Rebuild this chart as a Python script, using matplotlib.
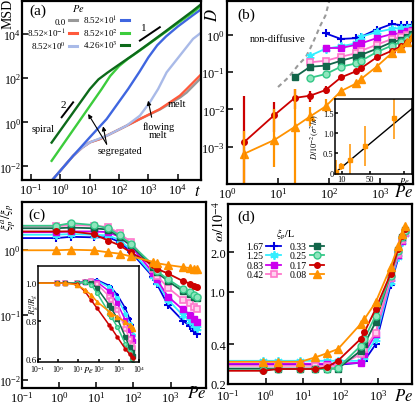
import numpy as np
import matplotlib
matplotlib.use('Agg')
import matplotlib.pyplot as plt
from matplotlib.ticker import FixedLocator, NullLocator, LogFormatterSciNotation, FixedFormatter

plt.rcParams['font.family'] = ['Liberation Serif', 'DejaVu Serif']
plt.rcParams['mathtext.fontset'] = 'stix'
plt.rcParams['axes.unicode_minus'] = False

# ---------------- data: panel (a) MSD(t) ----------------
pe_a_labels = ['0.0', '8.52×10$^{-1}$', '8.52×10$^{0}$',
               '8.52×10$^{1}$', '8.52×10$^{2}$', '4.26×10$^{3}$']
t_gray = [0.51, 2.75, 5.6, 10.2, 22.4, 107, 513, 2450, 11750, 19950, 64600]
msd_gray = [0.0022, 0.030, 0.071, 0.123, 0.174, 0.49, 1.41, 3.8, 13.2, 22.4, 110]
t_red = [0.51, 2.75, 5.6, 10.2, 22.4, 107, 513, 2450, 11750, 19950, 64600]
msd_red = [0.0022, 0.030, 0.071, 0.123, 0.174, 0.49, 1.41, 3.98, 16.2, 32.4, 158]
t_lblue = [0.51, 2.75, 5.6, 10.2, 38, 182, 513, 1120, 2140, 4170, 11750, 33100, 64600]
msd_lblue = [0.0022, 0.030, 0.071, 0.123, 0.245, 0.708, 2.0, 8.1, 32.4, 186, 1070, 6170, 12300]
t_blue = [0.51, 2.75, 10.2, 38, 204, 501, 1000, 2000, 3980, 10000, 31600, 64600]
msd_blue = [0.0022, 0.030, 0.21, 1.41, 32.4, 200, 891, 3160, 7940, 22400, 70800, 141000]
t_green = [0.51, 25.7, 50, 100, 200, 501, 1000, 3160, 10000, 31600, 64600]
msd_green = [0.0178, 32.4, 126, 355, 759, 1780, 3470, 10500, 31600, 95500, 200000]
t_dkgreen = [0.51, 10.2, 20, 40, 100, 316, 1000, 3160, 10000, 31600, 64600]
msd_dkgreen = [0.12, 32.4, 89, 178, 417, 1200, 3630, 11200, 35500, 112000, 240000]

# ---------------- data: panel (b) D(Pe) ----------------
xi_labels = ['1.67', '1.25', '0.83', '0.42', '0.33', '0.25', '0.17', '0.08']
nan = np.nan
pe_b = [2.13, 8.52, 21.3, 42.6, 85.2, 170.4, 340.8, 426, 852, 1704, 2556, 3408, 4260]
d_167 = [nan, nan, nan, nan, 1.12, 0.79, 0.83, 0.91, 1.41, 2.0, 1.86, 1.86, 1.82]
d_125 = [nan, nan, nan, 0.28, 0.43, 0.50, 0.60, 0.91, 1.20, 1.48, 1.55, 1.58, 1.62]
d_083 = [nan, nan, nan, nan, 0.45, 0.45, 0.55, 0.60, 0.83, 1.07, 1.12, 1.26, 1.38]
d_042 = [nan, nan, nan, 0.186, 0.204, 0.263, 0.324, 0.38, 0.55, 0.79, 0.87, 1.02, 1.20]
d_033 = [nan, nan, 0.074, 0.141, 0.151, 0.204, 0.263, 0.295, 0.427, 0.646, 0.741, 0.871, 1.07]
d_025 = [nan, nan, nan, 0.071, 0.089, 0.141, 0.174, 0.204, 0.347, 0.525, 0.646, 0.794, 0.977]
d_017 = [0.00129, 0.00708, 0.0204, 0.0234, 0.0331, 0.0724, 0.107, 0.129, 0.251, 0.38, 0.50, 0.66, 0.85]
d_008 = [0.00063, 0.00151, 0.00339, 0.00646, 0.0120, 0.0309, 0.0501, 0.0661, 0.141, 0.331, 0.457, 0.646, 0.91]
# error bar ends for the first five points
err_pe = [2.13, 8.52, 21.3, 42.6, 85.2]
d_017_lo = [1e-6, 0.0024, 0.0102, 0.0155, 0.0263]
d_017_hi = [0.0234, 0.0155, 0.0355, 0.0316, 0.0417]
d_008_lo = [1e-6, 0.00028, 1e-6, 0.0036, 0.0085]
d_008_hi = [0.00269, 0.0102, 0.0355, 0.0115, 0.0191]
# non-diffusive boundary (dashed guide)
nd_pe = [10, 16.2, 25.7, 34.7, 43.7, 53.7, 67.6, 85.1, 100]
nd_d = [0.040, 0.074, 0.166, 0.251, 0.468, 0.871, 1.82, 3.39, 7.94]
# inset of (b), D in units of 1e-2
ins_pe = [2.13, 8.52, 21.3, 42.6, 85.2]
ins_d = [0.03, 0.16, 0.33, 0.68, 1.38]
ins_lo = [-0.07, 0.06, -0.07, 0.18, 0.85]
ins_hi = [0.31, 0.24, 0.72, 1.18, 1.85]
fit_slope = 0.0145
fit_pe = [0, 111]

# ---------------- data: panels (c), (d) ----------------
pe_cd = [0.1, 0.852, 2.13, 8.52, 21.3, 42.6, 85.2, 340.8, 426, 852, 2130, 3408, 4260, 5112]
c_167 = [1.51, 1.51, 1.58, 1.55, 1.55, 1.32, 0.93, 0.38, 0.30, 0.14, 0.081, 0.066, 0.056, 0.050]
c_125 = [1.70, 1.70, 1.74, 1.70, 1.66, 1.41, 1.00, 0.40, 0.32, 0.17, 0.098, 0.079, 0.069, 0.063]
c_083 = [1.86, 1.86, 1.91, 1.91, 1.86, 1.58, 1.15, 0.44, 0.35, 0.19, 0.12, 0.10, 0.085, 0.076]
c_042 = [2.29, 2.29, 2.40, 2.34, 2.24, 1.78, 1.32, 0.50, 0.40, 0.26, 0.17, 0.15, 0.13, 0.12]
c_033 = [2.14, 2.14, 2.19, 2.14, 2.04, 1.58, 1.17, 0.54, 0.45, 0.33, 0.23, 0.21, 0.19, 0.18]
c_025 = [2.34, 2.34, 2.57, 2.40, 2.14, 1.66, 1.23, 0.58, 0.47, 0.35, 0.25, 0.22, 0.20, 0.19]
c_017 = [1.91, 1.91, 1.91, 1.74, 1.38, 1.17, 0.91, 0.58, 0.51, 0.43, 0.33, 0.30, 0.28, 0.27]
c_008 = [0.98, 0.98, 1.00, 0.98, 0.91, 0.87, 0.79, 0.65, 0.62, 0.58, 0.54, 0.52, 0.51, 0.50]
# inset of (c): Rg^a / Rg
rg_167 = [1.0, 1.0, 1.0, 1.0, 1.01, 1.018, 1.016, 0.987, 0.977, 0.938, 0.867, 0.813, 0.778, 0.751]
rg_125 = [1.0, 1.0, 1.0, 1.0, 1.008, 1.016, 1.012, 0.977, 0.964, 0.92, 0.84, 0.787, 0.751, 0.728]
rg_083 = [1.0, 1.0, 1.0, 1.0, 1.005, 1.012, 1.005, 0.956, 0.941, 0.893, 0.804, 0.751, 0.716, 0.693]
rg_042 = [1.0, 1.0, 1.0, 1.0, 1.005, 1.009, 0.995, 0.929, 0.911, 0.858, 0.76, 0.707, 0.676, 0.658]
rg_033 = [1.0, 1.0, 1.0, 1.0, 1.005, 1.0, 0.973, 0.884, 0.867, 0.813, 0.716, 0.662, 0.636, 0.615]
rg_025 = [1.0, 1.0, 1.0, 1.0, 1.005, 0.991, 0.947, 0.84, 0.822, 0.769, 0.68, 0.636, 0.6, 0.573]
rg_017 = [1.0, 1.0, 1.0, 0.995, 0.956, 0.911, 0.867, 0.778, 0.764, 0.716, 0.653, 0.627, 0.612, 0.604]
rg_008 = [1.0, 1.0, 1.0, 0.991, 0.964, 0.938, 0.902, 0.849, 0.84, 0.822, 0.796, 0.781, 0.769, 0.76]
# panel (d): omega / 1e-4
w_167 = [0.28, 0.28, 0.28, 0.28, 0.28, 0.28, 0.28, 0.29, 0.30, 0.40, 1.13, 1.8, 2.4, 2.7]
w_125 = [0.30, 0.30, 0.30, 0.30, 0.30, 0.30, 0.30, 0.30, 0.32, 0.44, 1.2, 1.85, 2.4, 2.75]
w_083 = [0.285, 0.285, 0.285, 0.285, 0.285, 0.285, 0.285, 0.29, 0.34, 0.48, 1.27, 1.9, 2.45, 2.8]
w_042 = [0.275, 0.275, 0.275, 0.275, 0.275, 0.275, 0.275, 0.336, 0.37, 0.49, 1.27, 1.95, 2.5, 2.8]
w_033 = [0.262, 0.262, 0.262, 0.262, 0.262, 0.262, 0.262, 0.358, 0.40, 0.59, 1.37, 2.1, 2.6, 2.95]
w_025 = [0.255, 0.255, 0.26, 0.26, 0.26, 0.26, 0.265, 0.39, 0.44, 0.66, 1.33, 2.05, 2.6, 2.9]
w_017 = [0.252, 0.252, 0.26, 0.26, 0.26, 0.268, 0.301, 0.44, 0.493, 0.743, 1.37, 2.12, 2.67, 3.0]
w_008 = [0.295, 0.295, 0.295, 0.295, 0.319, 0.342, 0.369, 0.571, 0.62, 0.834, 1.54, 2.24, 2.75, 3.18]

# ---------------- styles ----------------
a_colors = ['#999999', '#ff5a3c', '#a9bae8', '#3f66e0', '#3ccc3c', '#0d6a1a']
sty = [
    dict(color='#0000e0', marker='+', ms=6, mew=1.5),
    dict(color='#33eeff', marker=(6, 2, 0), ms=6, mew=1.3),
    dict(color='#cc00ee', marker='s', ms=4.3),
    dict(color='#ff77cc', marker='s', ms=4.3, mfc='#ffd3ef', mew=1.2),
    dict(color='#12664a', marker='s', ms=4.3),
    dict(color='#35c888', marker='o', ms=5, mfc='#8fe6bd', mew=1.0),
    dict(color='#cc0000', marker='o', ms=4),
    dict(color='#ff9200', marker='^', ms=5.5),
]

W, H = 416, 406
fig = plt.figure(figsize=(W / 100, H / 100), dpi=100)


def box(l, t, r, b):
    return [l / W, 1 - b / H, (r - l) / W, (b - t) / H]


def ftext(x, y, s, **kw):
    fig.text(x / W, 1 - y / H, s, ha='center', va='center', **kw)


def frame(ax, lw=1.6, size=9, tl=4):
    for s in ax.spines.values():
        s.set_linewidth(lw)
    ax.tick_params(which='both', direction='in', length=tl, width=1.1,
                   labelsize=size, pad=1.5, top=False, right=False)


def logticks(axis, ticks):
    axis.set_major_locator(FixedLocator(ticks))
    axis.set_major_formatter(LogFormatterSciNotation())
    axis.set_minor_locator(NullLocator())


# ================= (a) =================
ax = fig.add_axes(box(22, 2, 201, 181))
ax.set_xscale('log')
ax.set_yscale('log')
curves = [(t_gray, msd_gray), (t_red, msd_red), (t_lblue, msd_lblue),
          (t_blue, msd_blue), (t_green, msd_green), (t_dkgreen, msd_dkgreen)]
for (t, m), c, lab in zip(curves, a_colors, pe_a_labels):
    ax.plot(t, m, color=c, lw=1.7, label=lab)
ax.set_xlim(10 ** -1.30, 10 ** 4.79)
ax.set_ylim(10 ** -2.62, 10 ** 5.51)
logticks(ax.xaxis, [1e-1, 1, 1e1, 1e2, 1e3, 1e4])
logticks(ax.yaxis, [1e-2, 1, 1e2, 1e4])
frame(ax)
ax.tick_params(axis='y', pad=0.5, labelsize=8.5)
leg = ax.legend(loc='upper left', bbox_to_anchor=(0.03, 0.995), ncol=2,
                markerfirst=False, fontsize=6.5, handlelength=0.9,
                handletextpad=0.35, columnspacing=0.6, labelspacing=0.1,
                title='$Pe$', title_fontsize=7.5, frameon=False,
                borderpad=0, borderaxespad=0)
for h in leg.get_lines():
    h.set_linewidth(2.2)
# slope guides
ax.plot([1.12, 2.75], [1.7, 8.1], color='k', lw=1.4)
ax.text(1.26, 6.7, '2', fontsize=8, ha='center', va='center')
ax.plot([513, 2450], [5130, 20900], color='k', lw=1.4)
ax.text(708, 19500, '1', fontsize=8, ha='center', va='center')
ax.text(0.27, 0.55, 'spiral', fontsize=7.5, ha='center', va='center')
ax.text(112, 0.05, 'segregated', fontsize=7.5, ha='center', va='center')
arr = dict(arrowstyle='-|>', color='k', lw=0.8, mutation_scale=6, shrinkA=0, shrinkB=0)
ax.annotate('', xy=(8.9, 2.4), xytext=(38, 0.102), arrowprops=arr)
ax.annotate('', xy=(28.8, 0.66), xytext=(38, 0.102), arrowprops=arr)
ax.text(2190, 0.43, 'flowing\nmelt', fontsize=7.5, ha='center', va='center',
        linespacing=0.9)
ax.annotate('', xy=(977, 9.6), xytext=(1290, 1.7), arrowprops=arr)
ax.text(9120, 6.8, 'melt', fontsize=7.5, ha='center', va='center')
ftext(37.5, 11, '(a)', fontsize=11)
ftext(8, 14, 'MSD', fontsize=10, rotation=90)
ftext(197, 192, '$t$', fontsize=12)

# ================= (b) =================
ax = fig.add_axes(box(227, 2, 413, 185))
ax.set_xscale('log')
ax.set_yscale('log')
ax.plot(nd_pe, nd_d, color='#999999', lw=1.5, ls=(0, (2.2, 1.8)))
for d, s in zip([d_167, d_125, d_083, d_042, d_033, d_025, d_017, d_008], sty):
    ax.plot(pe_b, d, lw=1.3, **s)
for d, lo, hi, s in [(d_017, d_017_lo, d_017_hi, sty[6]), (d_008, d_008_lo, d_008_hi, sty[7])]:
    d5 = np.array(d[:5])
    ax.errorbar(err_pe, d5, yerr=[d5 - np.array(lo), np.array(hi) - d5],
                fmt='none', ecolor=s['color'], elinewidth=1.6, capsize=0)
ax.set_xlim(1.0, 10 ** 3.645)
ax.set_ylim(10 ** -4.01, 10 ** 0.92)
logticks(ax.xaxis, [1, 1e1, 1e2, 1e3])
logticks(ax.yaxis, [1e-3, 1e-2, 1e-1, 1])
frame(ax)
ax.text(9.7, 0.79, 'non-diffusive', fontsize=7.5, ha='center', va='center')
ftext(246, 15, '(b)', fontsize=11)
ftext(213, 15, '$D$', fontsize=12, rotation=90)
ftext(404, 193, '$Pe$', fontsize=12)

axi = fig.add_axes(box(335, 100, 412, 175))
axi.plot(fit_pe, [fit_slope * p for p in fit_pe], color='k', lw=1.0)
ins_d_arr = np.array(ins_d)
axi.errorbar(ins_pe, ins_d, yerr=[ins_d_arr - np.array(ins_lo), np.array(ins_hi) - ins_d_arr],
             fmt='s', color='#ff9200', ms=2.5, elinewidth=1.1, capsize=0)
axi.set_xlim(0, 111)
axi.set_ylim(-0.03, 1.85)
axi.xaxis.set_major_locator(FixedLocator([10, 50, 100]))
axi.xaxis.set_major_formatter(FixedFormatter(['10', '50', '$Pe$']))
axi.yaxis.set_major_locator(FixedLocator([0, 0.5, 1.0, 1.5]))
axi.yaxis.set_major_formatter(FixedFormatter(['0', '0.5', '1.0', '1.5']))
frame(axi, lw=1.1, size=6, tl=2)
axi.tick_params(pad=1)
ftext(315, 137, r'$D/10^{-2}(\sigma^2/\kappa)$', fontsize=6, rotation=90)

# ================= (c) =================
ax = fig.add_axes(box(21.7, 203.3, 205.7, 389))
ax.set_xscale('log')
ax.set_yscale('log')
for y, s in zip([c_167, c_125, c_083, c_042, c_033, c_025, c_017, c_008], sty):
    ax.plot(pe_cd, y, lw=1.3, markevery=slice(1, None), **s)
ax.set_xlim(0.1, 10 ** 3.946)
ax.set_ylim(10 ** -2.13, 10 ** 0.73)
logticks(ax.xaxis, [1e-1, 1, 1e1, 1e2, 1e3])
logticks(ax.yaxis, [1e-2, 1e-1, 1])
frame(ax)
ax.tick_params(axis='y', pad=0.5, labelsize=8.5)
ftext(37, 215, '(c)', fontsize=11)
ftext(9, 217, r'$\xi_p^a/\xi_p$', fontsize=9, rotation=90)
ftext(197, 394, '$Pe$', fontsize=12)

axi = fig.add_axes(box(38, 267, 139, 363))
axi.set_xscale('log')
for y, s in zip([rg_167, rg_125, rg_083, rg_042, rg_033, rg_025, rg_017, rg_008], sty):
    s2 = dict(s)
    s2['ms'] = s['ms'] * 0.55
    axi.plot(pe_cd, y, lw=1.1, markevery=slice(1, None), **s2)
axi.set_xlim(0.1, 1e4)
axi.set_ylim(0.585, 1.09)
logticks(axi.xaxis, [1e-1, 1, 1e1, 1e2, 1e3, 1e4])
axi.yaxis.set_major_locator(FixedLocator([0.6, 0.8, 1.0]))
axi.yaxis.set_major_formatter(FixedFormatter(['0.6', '0.8', '1.0']))
frame(axi, lw=1.1, size=5.5, tl=2)
axi.tick_params(pad=1)
axi.tick_params(axis='y', labelsize=6.5)
ftext(34, 304, r'$R_g^a/R_g$', fontsize=6, rotation=90)
ftext(88.5, 370, '$Pe$', fontsize=6)

# ================= (d) =================
ax = fig.add_axes(box(228, 205, 412, 385))
ax.set_xscale('log')
ax.set_yscale('log')
for y, s, lab in zip([w_167, w_125, w_083, w_042, w_033, w_025, w_017, w_008], sty, xi_labels):
    ax.plot(pe_cd, y, lw=1.3, markevery=slice(1, None), label=lab, **s)
ax.set_xlim(0.1, 10 ** 3.9)
ax.set_ylim(0.2, 4.66)
logticks(ax.xaxis, [1e-1, 1, 1e1, 1e2, 1e3])
ax.yaxis.set_major_locator(FixedLocator([0.2, 0.4, 1.0, 2.0]))
ax.yaxis.set_major_formatter(FixedFormatter(['0.2', '0.4', '1.0', '2.0']))
ax.yaxis.set_minor_locator(NullLocator())
frame(ax)
ax.tick_params(axis='x', pad=3)
ax.legend(loc='upper left', bbox_to_anchor=(0.10, 0.87), ncol=2,
          markerfirst=False, fontsize=7, handlelength=1.5, handletextpad=0.3,
          columnspacing=0.9, labelspacing=0.05, title=r'$\xi_{\rm p}/{\rm L}$',
          title_fontsize=7, frameon=False, borderpad=0, borderaxespad=0)
ftext(246, 217, '(d)', fontsize=11)
ftext(219, 222, r'$\omega/10^{-4}$', fontsize=10, rotation=90)
ftext(404, 397, '$Pe$', fontsize=12)

fig.savefig('out.png', dpi=100)
